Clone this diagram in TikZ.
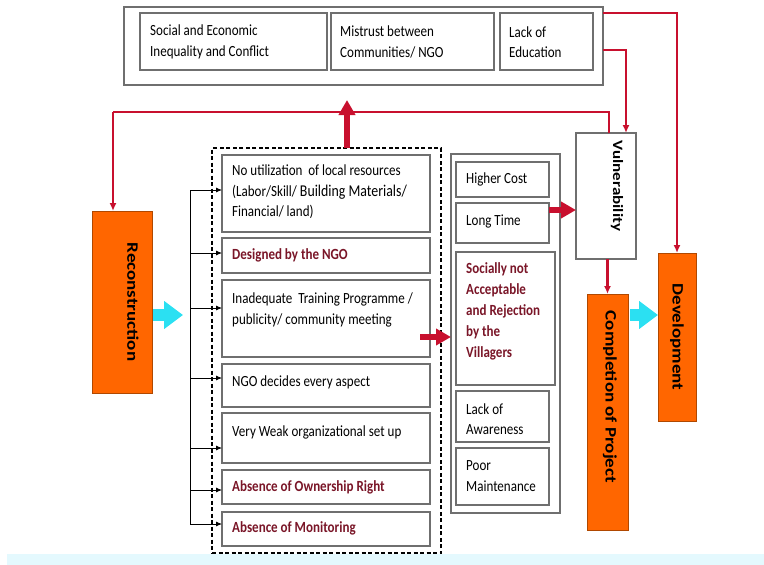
\documentclass[tikz,border=0pt]{standalone}
\usepackage{fontspec}
\usepackage{graphicx}
\setmainfont{Carlito}
\usetikzlibrary{arrows.meta,calc}

\definecolor{boxgray}{HTML}{6F6F6F}
\definecolor{linered}{HTML}{C8102E}
\definecolor{textred}{HTML}{7A1628}
\definecolor{orangefill}{HTML}{FF6600}
\definecolor{orangeline}{HTML}{B04800}
\definecolor{cyanarrow}{HTML}{2BE0F2}
\definecolor{bandcyan}{HTML}{E4F9FE}

% narrow glyphs horizontally (text set upright) or vertically (text set sideways)
\newcommand\sq[1]{\scalebox{0.84}[1]{#1}}
\newcommand\vsq[1]{\scalebox{1}[0.84]{#1}}
% rectangle node from its corners: \bx[style]{x1}{y1}{x2}{y2}{name}
\newcommand\bx[6][box]{\node[#1, minimum width={#4-#2}, minimum height={#5-#3}] (#6) at (#2,#3) {};}

\begin{document}
\begin{tikzpicture}[x=1pt,y=-1pt,
  box/.style={draw=boxgray, line width=1.2pt, fill=white, inner sep=0pt, outer sep=0pt, anchor=north west},
  dbox/.style={draw=black, line width=1.2pt, dash pattern=on 4pt off 2.5pt, inner sep=0pt, outer sep=0pt, anchor=north west},
  obox/.style={draw=orangeline, line width=1pt, fill=orangefill, inner sep=0pt, outer sep=0pt, anchor=north west},
  txt/.style={anchor=west, align=left, inner sep=0pt, font=\fontsize{15.5}{20.5}\selectfont},
  rtxt/.style={anchor=west, align=left, inner sep=0pt, text=textred, font=\fontsize{15.5}{21}\selectfont\bfseries},
  vlabel/.style={rotate=-90, inner sep=0pt, font=\fontsize{19}{19}\selectfont\bfseries},
  redline/.style={draw=linered, line width=2.2pt, -{Latex[length=8pt,width=7pt]}},
  plainred/.style={draw=linered, line width=2.2pt},
  bigred/.style={draw=linered, line width=6pt, -{Triangle[length=15pt,width=16pt]}},
  bigcyan/.style={draw=cyanarrow, line width=12pt, -{Triangle[length=19pt,width=27pt]}},
  spine/.style={draw=black, line width=0.8pt},
  barrow/.style={draw=black, line width=0.8pt, -{Latex[length=6pt,width=5pt]}}
]
\useasboundingbox (0,0) rectangle (764,565);
\fill[bandcyan] (7,554) rectangle (764,565);

% ---- causes along the top ----
\bx{124}{7}{603}{85}{top}
\bx{140}{13}{327}{70}{c1}
\bx{331}{13}{494}{70}{c2}
\bx{500}{13}{593}{70}{c3}
\node[txt] (tc1) at (150,42) {\sq{Social and Economic}\\\sq{Inequality and Conflict}};
\node[txt] (tc2) at (340,42) {\sq{Mistrust between}\\\sq{Communities/ NGO}};
\node[txt] (tc3) at (509,42) {\sq{Lack of}\\\sq{Education}};

% ---- orange stage boxes ----
\bx[obox]{92}{211}{152}{393}{rec}
\bx[obox]{587}{294}{628}{530}{comp}
\bx[obox]{658}{253}{696}{421}{dev}
\node[vlabel] (lrec) at (133,302) {\vsq{Reconstruction}};
\node[vlabel] (lcomp) at (610,397) {\vsq{Completion of Project}};
\node[vlabel] (ldev) at (677,337) {\vsq{Development}};

% ---- vulnerability ----
\bx{576}{133}{636}{259}{vul}
\node[vlabel, font=\fontsize{17}{17}\selectfont\bfseries] (lvul) at (617,186) {\vsq{Vulnerability}};

% ---- problems during reconstruction ----
\bx[dbox]{212}{148}{441}{553}{dash}
\bx{222}{155}{430}{232}{b1}
\bx{222}{238}{430}{273}{b2}
\bx{222}{280}{430}{357}{b3}
\bx{222}{364}{430}{407}{b4}
\bx{222}{413}{430}{463}{b5}
\bx{222}{470}{430}{504}{b6}
\bx{222}{512}{430}{546}{b7}
\node[txt] (tb1) at (232,192) {\sq{No utilization\ \ of local resources}\\\sq{(Labor/Skill/ {\fontsize{16.5}{20.5}\selectfont Building Materials/}}\\\sq{Financial/ land)}};
\node[rtxt] (tb2) at (232,255) {\sq{Designed by the NGO}};
\node[txt] (tb3) at (232,310) {\sq{Inadequate\ \ Training Programme /}\\\sq{publicity/ community meeting}};
\node[txt] (tb4) at (232,382) {\sq{NGO decides every aspect}};
\node[txt] (tb5) at (232,432) {\sq{Very Weak organizational set up}};
\node[rtxt] (tb6) at (232,487) {\sq{Absence of Ownership Right}};
\node[rtxt] (tb7) at (232,528) {\sq{Absence of Monitoring}};

% ---- consequences ----
\bx{451}{154}{560}{513}{grp}
\bx{456}{162}{549}{197}{r1}
\bx{456}{203}{549}{243}{r2}
\bx{456}{252}{555}{385}{r3}
\bx{456}{391}{549}{442}{r4}
\bx{456}{448}{549}{505}{r5}
\node[txt] (tr1) at (466,179) {\sq{Higher Cost}};
\node[txt] (tr2) at (466,221) {\sq{Long Time}};
\node[rtxt] (tr3) at (466,311) {\sq{Socially not}\\\sq{Acceptable}\\\sq{and Rejection}\\\sq{by the}\\\sq{Villagers}};
\node[txt] (tr4) at (466,419) {\sq{Lack of}\\\sq{Awareness}};
\node[txt] (tr5) at (466,476) {\sq{Poor}\\\sq{Maintenance}};

% ---- branching arrows into each problem ----
\coordinate (s1) at (190,190);
\coordinate (s2) at (190,253);
\coordinate (s3) at (190,308);
\coordinate (s4) at (190,378);
\coordinate (s5) at (190,448);
\coordinate (s6) at (190,490);
\coordinate (s7) at (190,524);
\draw[spine] (s1) -- (s7);
\draw[barrow] (s1) -- (s1 -| b1.west);
\draw[barrow] (s2) -- (s2 -| b2.west);
\draw[barrow] (s3) -- (s3 -| b3.west);
\draw[barrow] (s4) -- (s4 -| b4.west);
\draw[barrow] (s5) -- (s5 -| b5.west);
\draw[barrow] (s6) -- (s6 -| b6.west);
\draw[barrow] (s7) -- (s7 -| b7.west);

% ---- red feedback lines ----
\draw[redline] (top.north east) ++(0,6) -| (dev.north);
\draw[redline] (top.south east) ++(0,-35) -| ([xshift=20pt]vul.north);
\coordinate (bend) at (113,112);
\draw[plainred] ([xshift=3pt]vul.north) |- (bend);
\draw[redline] (bend) -- (bend |- rec.north);
\draw[redline] (vul.south -| comp.north) -- (comp.north);

% ---- thick red arrows ----
\coordinate (upfoot) at (347,148);
\draw[bigred] (upfoot) -- ++(0,-48);
\coordinate (midout) at (420,337);
\draw[bigred] (midout) -- (midout -| grp.west);
\coordinate (ltout) at (549,210);
\draw[bigred] (ltout) -- (ltout -| vul.west);

% ---- cyan arrows ----
\coordinate (cy1) at (153,315);
\draw[bigcyan] (cy1) -- (183,315);
\coordinate (cy2) at (630,315);
\draw[bigcyan] (cy2) -- (cy2 -| dev.west);
\end{tikzpicture}
\end{document}
